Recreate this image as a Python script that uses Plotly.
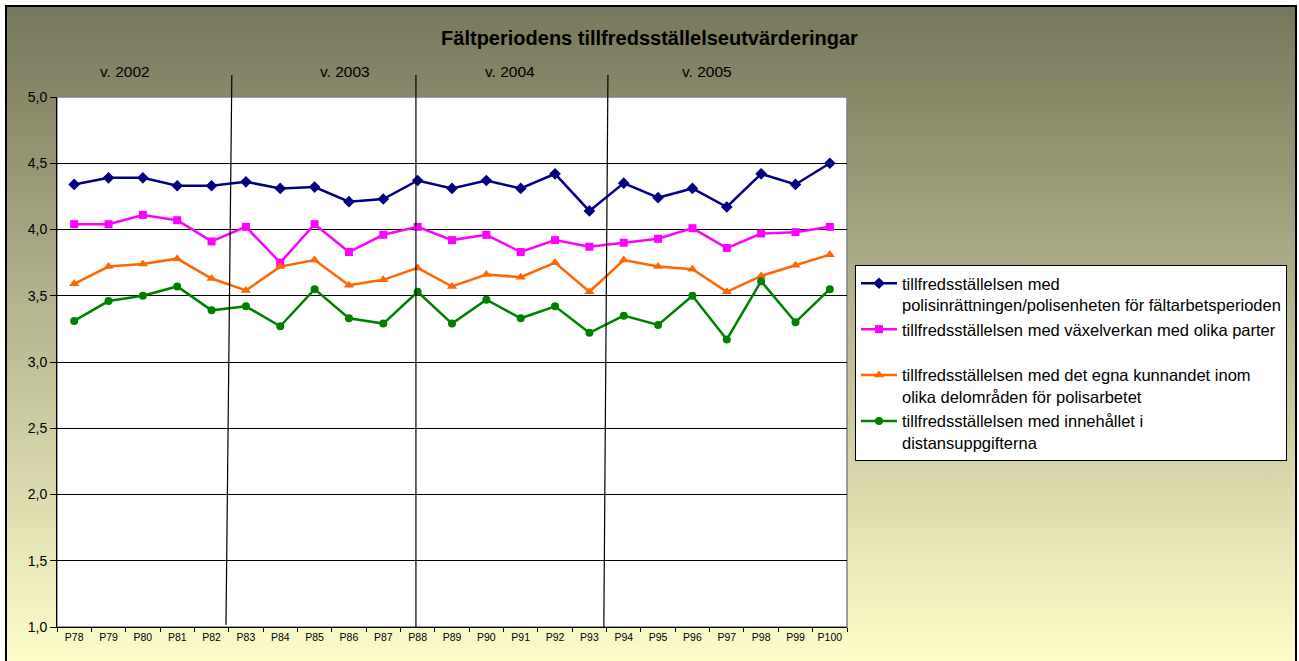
import base64
import plotly.graph_objects as go

# ---------------- data ----------------
periods = ["P78", "P79", "P80", "P81", "P82", "P83", "P84", "P85", "P86", "P87", "P88",
           "P89", "P90", "P91", "P92", "P93", "P94", "P95", "P96", "P97", "P98", "P99", "P100"]

polis = [4.34, 4.39, 4.39, 4.33, 4.33, 4.36, 4.31, 4.32, 4.21, 4.23, 4.37,
         4.31, 4.37, 4.31, 4.42, 4.14, 4.35, 4.24, 4.31, 4.17, 4.42, 4.34, 4.50]
vaxel = [4.04, 4.04, 4.11, 4.07, 3.91, 4.02, 3.75, 4.04, 3.83, 3.96, 4.02,
         3.92, 3.96, 3.83, 3.92, 3.87, 3.90, 3.93, 4.01, 3.86, 3.97, 3.98, 4.02]
kunnande = [3.59, 3.72, 3.74, 3.78, 3.63, 3.54, 3.72, 3.77, 3.58, 3.62, 3.71,
            3.57, 3.66, 3.64, 3.75, 3.53, 3.77, 3.72, 3.70, 3.53, 3.65, 3.73, 3.81]
distans = [3.31, 3.46, 3.50, 3.57, 3.39, 3.42, 3.27, 3.55, 3.33, 3.29, 3.53,
           3.29, 3.47, 3.33, 3.42, 3.22, 3.35, 3.28, 3.50, 3.17, 3.61, 3.30, 3.55]

series_names = [
    "tillfredsställelsen med<br>polisinrättningen/polisenheten för fältarbetsperioden",
    "tillfredsställelsen med växelverkan med olika parter<br> ",
    "tillfredsställelsen med det egna kunnandet inom<br>olika delområden för polisarbetet",
    "tillfredsställelsen med innehållet i<br>distansuppgifterna",
]
series_values = [polis, vaxel, kunnande, distans]
series_colors = ["#000080", "#FF00FF", "#FF6600", "#008000"]
series_symbols = ["diamond", "square", "triangle-up", "circle"]
series_sizes = [9, 8, 9, 8]

year_labels = ["v. 2002", "v. 2003", "v. 2004", "v. 2005"]
year_label_pos = [1.48, 7.88, 12.69, 18.42]          # category units
# year separator lines (category units at top / bottom)
sep_top = [4.59, 9.95, 15.54]
sep_bottom = [4.42, 9.95, 15.42]
sep_bottom_y = [0.004, 0.0, 0.0]

FONT = "Arial, Liberation Sans, sans-serif"
ncat = len(periods)

def cx(c):
    return (c + 0.5) / ncat

fig = go.Figure()
for name, vals, col, sym, sz in zip(series_names, series_values, series_colors,
                                    series_symbols, series_sizes):
    fig.add_trace(go.Scatter(
        x=periods, y=vals, name=name, mode="lines+markers",
        legendgroup=name,
        line=dict(color=col, width=2.5),
        marker=dict(symbol=sym, size=sz, color=col),
    ))

# gradient background
svg = ('<svg xmlns="http://www.w3.org/2000/svg" width="100" height="100" preserveAspectRatio="none">'
       '<defs><linearGradient id="g" x1="0" y1="0" x2="0" y2="1">'
       '<stop offset="0" stop-color="#76765a"/><stop offset="1" stop-color="#ffffcc"/>'
       '</linearGradient></defs><rect width="100" height="100" fill="url(#g)"/></svg>')
src = "data:image/svg+xml;base64," + base64.b64encode(svg.encode()).decode()

L, R, T, B = 57, 452, 97, 34
W, H = 1299, 661
pw, ph = W - L - R, H - T - B

def px(xp):
    return (xp - L) / pw

def py(yp):
    return (H - B - yp) / ph

fig.add_layout_image(dict(
    source=src, xref="paper", yref="paper",
    x=px(6), y=py(6), sizex=px(1296) - px(6), sizey=py(6) - py(670),
    xanchor="left", yanchor="top", sizing="stretch", layer="below",
))

shapes = [
    # outer frame
    dict(type="rect", xref="paper", yref="paper", x0=px(6), x1=px(1296), y0=py(670), y1=py(6),
         line=dict(color="black", width=2), fillcolor="rgba(0,0,0,0)", layer="below"),
    # plot area
    dict(type="rect", xref="paper", yref="paper", x0=0, x1=1, y0=0, y1=1,
         line=dict(color="#808080", width=1.5), fillcolor="white", layer="below"),
]
for t, b, by in zip(sep_top, sep_bottom, sep_bottom_y):
    shapes.append(dict(type="line", xref="paper", yref="paper",
                       x0=cx(t), y0=py(75), x1=cx(b), y1=by,
                       line=dict(color="black", width=1.2), layer="above"))

annotations = []
for lab, pos in zip(year_labels, year_label_pos):
    annotations.append(dict(text=lab, xref="paper", yref="paper", x=cx(pos), y=py(72),
                            showarrow=False, font=dict(family=FONT, size=15.5, color="black"),
                            xanchor="center", yanchor="middle"))

fig.update_layout(
    width=W, height=H,
    margin=dict(l=L, r=R, t=T, b=B),
    paper_bgcolor="white",
    plot_bgcolor="rgba(0,0,0,0)",
    separators=", ",
    shapes=shapes,
    annotations=annotations,
    title=dict(text="<b>Fältperiodens tillfredsställelseutvärderingar</b>",
               x=0.5, xref="container", y=1 - 38 / H, yref="container",
               xanchor="center", yanchor="middle",
               font=dict(family=FONT, size=20, color="black")),
    xaxis=dict(type="category", range=[-0.5, ncat - 0.5], showgrid=False,
               tickson="boundaries", ticks="outside", ticklen=4, tickcolor="black",
               showline=True, linecolor="black", linewidth=1,
               tickfont=dict(family=FONT, size=10.5, color="black")),
    yaxis=dict(range=[1, 5], dtick=0.5, tickformat=".1f", showgrid=True,
               gridcolor="black", gridwidth=1, ticks="outside", ticklen=6,
               tickcolor="black", showline=True, linecolor="black", linewidth=1,
               zeroline=False,
               tickfont=dict(family=FONT, size=14, color="black")),
    legend=dict(x=px(855), y=py(265), xanchor="left", yanchor="top",
                bgcolor="white", bordercolor="black", borderwidth=1,
                font=dict(family=FONT, size=16.5, color="black"),
                valign="top", tracegroupgap=0, itemwidth=36),
    showlegend=True,
)

fig.write_html("out.html", config={"displayModeBar": False},
               post_script="document.body.style.margin='0px';")
